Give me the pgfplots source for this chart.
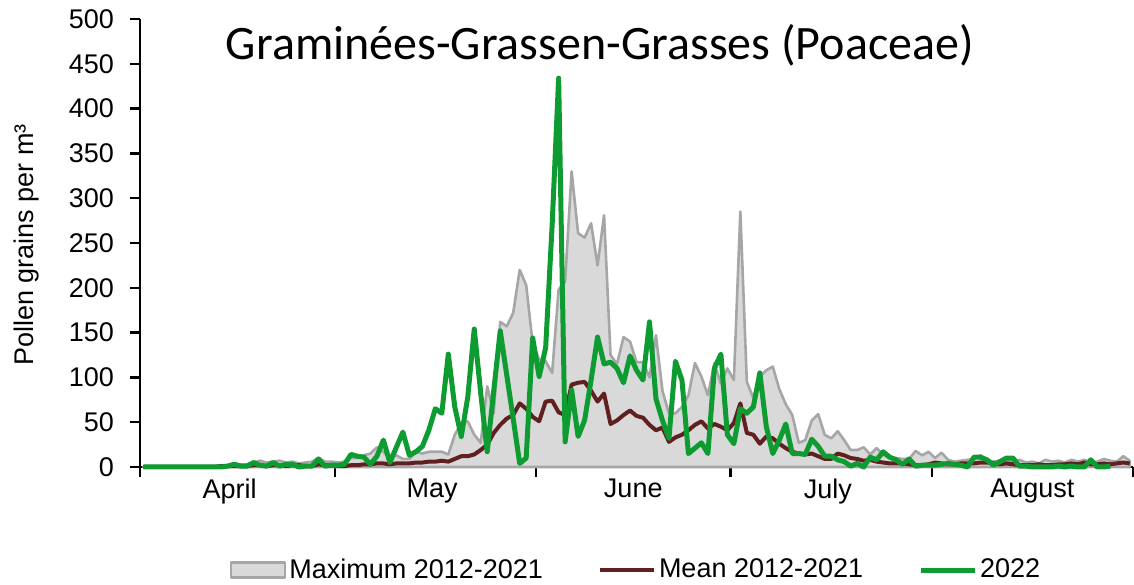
\documentclass[border=0pt]{standalone}
\usepackage{pgfplots}
\pgfplotsset{compat=1.18}
\usepackage{pgfplotstable}
\usepackage{fontspec}
\setmainfont{Liberation Sans}
\newfontfamily\titlefont{Carlito}
\definecolor{maxfill}{RGB}{217,217,217}
\definecolor{maxline}{RGB}{166,166,166}
\definecolor{meanc}{RGB}{96,32,32}
\definecolor{gc}{RGB}{14,156,50}
\pgfplotsset{
  myarea/.style={legend image code/.code={\draw[##1] (0pt,-3.75pt) rectangle (27pt,3.75pt);}},
  myline/.style={legend image code/.code={\draw[##1] (0pt,0pt) -- (27pt,0pt);}},
}

\pgfplotstableread{
d max mean g
0 0 0 0
1 0 0 0
2 0 0 0
3 0 0 0
4 0 0 0
5 0 0 0
6 0 0 0
7 0 0 0
8 0 0 0
9 1 0 0
10 1 0 0
11 1 0 0
12 2 1 0
13 2 1 1
14 4 1 3
15 3 1 1
16 3 1 1
17 5 2 5
18 7 2 2
19 5 1 1
20 6 2 5
21 7 2 1
22 5 1 3
23 6 2 3
24 4 2 0
25 5 1 1
26 6 1 1
27 10 3 9
28 6 2 1
29 6 2 2
30 5 1 2
31 6 1 3
32 10 2 14
33 10 2 12
34 13 3 11
35 15 3 3
36 22 4 12
37 17 4 30
38 10 3 5
39 13 4 22
40 9 4 39
41 9 4 13
42 17 5 17
43 15 5 23
44 17 6 41
45 17 6 65
46 17 7 60
47 14 6 126
48 36 9 67
49 49 12 34
50 51 12 78
51 36 14 154
52 27 19 82
53 90 25 17
54 60 38 85
55 162 47 152
56 157 54 103
57 172 58 54
58 220 71 4
59 203 65 10
60 138 56 144
61 120 51 101
62 118 73 133
63 105 74 270
64 198 61 434
65 207 58 28
66 330 92 86
67 261 94 34
68 256 95 52
69 272 85 97
70 225 73 145
71 281 82 115
72 125 48 117
73 115 52 110
74 145 58 94
75 140 63 124
76 117 57 108
77 117 55 97
78 100 47 162
79 147 41 76
80 85 44 52
81 60 28 32
82 60 33 118
83 67 36 97
84 80 41 15
85 116 47 21
86 101 51 27
87 80 43 15
88 116 48 110
89 93 45 126
90 110 41 36
91 97 49 26
92 285 71 65
93 95 38 60
94 77 36 67
95 101 26 105
96 108 34 45
97 112 32 15
98 87 26 30
99 70 21 48
100 58 17 15
101 27 15 15
102 30 14 14
103 52 15 31
104 59 12 23
105 36 9 12
106 32 9 12
107 40 15 8
108 30 13 6
109 19 10 1
110 19 9 4
111 22 7 0
112 14 8 11
113 21 6 8
114 14 5 17
115 10 4 11
116 10 4 8
117 9 4 3
118 9 3 9
119 18 2 1
120 13 2 2
121 17 3 2
122 10 5 2
123 16 4 3
124 8 3 4
125 6 3 3
126 7 4 2
127 8 4 0
128 9 4 11
129 13 5 11
130 8 5 8
131 6 4 2
132 7 3 6
133 8 4 10
134 5 3 10
135 8 2 1
136 5 2 1
137 6 2 0
138 4 3 0
139 8 2 0
140 6 2 0
141 7 3 1
142 5 3 0
143 8 4 1
144 6 3 0
145 8 5 0
146 5 3 8
147 6 3 0
148 9 4 0
149 7 3 1
150 6 4 nan
151 12 5 nan
152 7 4 nan
}\data

\begin{document}
\begin{tikzpicture}
\begin{axis}[
  scale only axis,
  width=496.5pt, height=224pt,
  xmin=0, xmax=153, ymin=0, ymax=500,
  axis x line=bottom, axis y line=left,
  axis line style={-, black, line width=1.2pt},
  tick align=outside,
  major tick length=5pt,
  tick style={black, line width=1.2pt},
  xtick={0,30,61,91,122,153}, xticklabels={},
  extra x ticks={13.8,45,76,106,137.5},
  extra x tick labels={April,May,June,July,August},
  extra x tick style={major tick length=0pt, tick style={draw=none}, xticklabel style={yshift=-2.5pt}},
  ytick={0,50,...,500},
  ticklabel style={font=\fontsize{13.5}{16}\selectfont},
  yticklabel style={xshift=-4.5pt},
  /pgf/number format/assume math mode=true,
  ylabel={Pollen grains per m³},
  ylabel style={at={(axis description cs:-0.114,0.496)}, anchor=center, font=\fontsize{13.5}{16}\selectfont},
  clip=false,
  legend columns=3,
  legend style={at={(0.5,-0.23)}, anchor=center, draw=none, fill=none,
    font=\fontsize{13.5}{16}\selectfont,
    /tikz/every even column/.append style={column sep=26pt},
    nodes={inner sep=1.5pt}},
]
\addplot[draw=maxline, fill=maxfill, line width=1.3pt, line join=round, myarea]
  table[x expr=\thisrow{d}+0.5, y=max]{\data} \closedcycle;
\addlegendentry{Maximum 2012-2021}
\addplot[meanc, line width=2pt, line join=round, myline]
  table[x expr=\thisrow{d}+0.5, y=mean]{\data};
\addlegendentry{Mean 2012-2021}
\addplot[gc, line width=2.5pt, line join=round, unbounded coords=jump, myline]
  table[x expr=\thisrow{d}+0.5, y=g]{\data};
\addlegendentry{2022}
\node[font=\titlefont\fontsize{24}{28}\selectfont] at (axis description cs:0.463,0.942) {Graminées-Grassen-Grasses (Poaceae)};
\coordinate (bbSW) at (axis description cs:-0.141,-0.2634);
\coordinate (bbNE) at (axis description cs:1.001,1.0424);
\end{axis}
\pgfresetboundingbox
\path (bbSW) rectangle (bbNE);
\end{tikzpicture}
\end{document}
